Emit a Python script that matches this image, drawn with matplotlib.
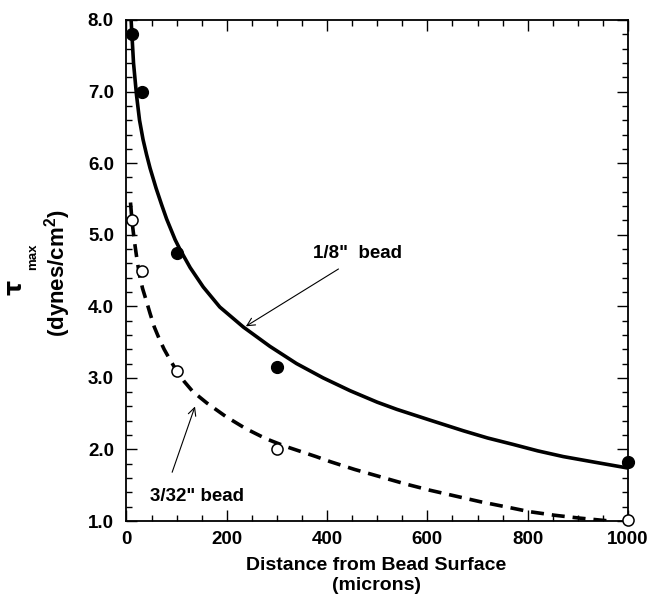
import numpy as np
import matplotlib
matplotlib.use("Agg")
from matplotlib import pyplot as plt
from matplotlib.ticker import MultipleLocator, FormatStrFormatter

plt.rcParams['font.family'] = ['Liberation Sans', 'DejaVu Sans']
plt.rcParams['font.weight'] = 'bold'
plt.rcParams['mathtext.fontset'] = 'custom'
plt.rcParams['mathtext.rm'] = 'Liberation Sans:bold'
plt.rcParams['mathtext.it'] = 'Liberation Sans:bold'
plt.rcParams['mathtext.bf'] = 'Liberation Sans:bold'

# measured points
dist = [10, 30, 100, 300, 1000]
tau_eighth = [7.8, 7.0, 4.75, 3.15, 1.82]
tau_3_32 = [5.2, 4.5, 3.1, 2.0, 1.02]

# fitted curves
fit8_x = [8, 10, 14, 20, 26, 33, 40, 47, 59, 70, 80, 97, 107, 127, 153, 186,
          233, 286, 339, 392, 446, 500, 539, 605, 672, 720, 771, 820, 871,
          935, 1000]
fit8_y = [8.15, 7.9, 7.4, 6.95, 6.6, 6.33, 6.12, 5.93, 5.65, 5.42, 5.22, 4.93,
          4.79, 4.54, 4.27, 3.99, 3.71, 3.44, 3.2, 3.0, 2.82, 2.66, 2.56,
          2.41, 2.26, 2.16, 2.07, 1.98, 1.9, 1.82, 1.74]
fit332_x = [8, 10, 12.5, 15.6, 20, 25.5, 32, 39, 47, 55.5, 65, 75, 87, 99, 115,
            132, 160, 198, 238, 278, 318, 378, 406, 455, 505, 555, 605, 655,
            705, 755, 804, 854, 904, 964]
fit332_y = [5.45, 5.28, 5.1, 4.92, 4.7, 4.45, 4.25, 4.09, 3.9, 3.71, 3.55, 3.4,
            3.25, 3.11, 2.95, 2.81, 2.65, 2.46, 2.29, 2.15, 2.04, 1.9, 1.83,
            1.72, 1.62, 1.52, 1.43, 1.35, 1.27, 1.2, 1.13, 1.08, 1.04, 1.0]

fig = plt.figure(figsize=(6.48, 5.97), dpi=100)
ax = fig.add_axes([0.1952, 0.1273, 0.7739, 0.8392])

ax.plot(fit8_x, fit8_y, color='black', lw=2.6, solid_capstyle='butt',
        solid_joinstyle='round')
ax.plot(fit332_x, fit332_y, color='black', lw=2.6, linestyle=(0, (3.6, 2.2)))
ax.plot(dist, tau_eighth, 'o', color='black', ms=8.5, clip_on=False, zorder=5)
ax.plot(dist, tau_3_32, 'o', mfc='white', mec='black', mew=1.1, ms=8,
        clip_on=False, zorder=5)

ax.set_xlim(0, 1000)
ax.set_ylim(1.0, 8.0)
ax.xaxis.set_major_locator(MultipleLocator(200))
ax.xaxis.set_minor_locator(MultipleLocator(50))
ax.yaxis.set_major_locator(MultipleLocator(1.0))
ax.yaxis.set_minor_locator(MultipleLocator(0.2))
ax.yaxis.set_major_formatter(FormatStrFormatter('%.1f'))
ax.tick_params(which='both', direction='in', top=True, right=True, width=1)
ax.tick_params(which='major', length=8, labelsize=13.5)
ax.tick_params(axis='x', which='major', pad=7)
ax.tick_params(axis='y', which='major', pad=9)
ax.tick_params(which='minor', length=4)
for s in ax.spines.values():
    s.set_linewidth(1.3)

# x label, two lines
fig.text(376 / 648, 1 - 565 / 597, 'Distance from Bead Surface', ha='center',
         va='center', fontsize=14, fontweight='bold')
fig.text(332 / 648, 1 - 585 / 597, '(microns)', ha='left', va='center',
         fontsize=14, fontweight='bold')

# y label
fig.text(15 / 648, 1 - 287 / 597, 'τ', rotation=90, ha='center', va='center',
         fontsize=17, fontweight='bold', family=['DejaVu Sans'])
fig.text(33 / 648, 1 - 257 / 597, 'max', rotation=90, ha='center', va='center',
         fontsize=9.5, fontweight='bold')
fig.text(58 / 648, 1 - 273 / 597, r'(dynes/cm$^{2}$)', rotation=90,
         ha='center', va='center', fontsize=16, fontweight='bold')

ax.annotate('1/8"  bead', xy=(238, 3.72), xytext=(460, 4.74),
            ha='center', va='center', fontsize=13.5, fontweight='bold',
            arrowprops=dict(arrowstyle='->', lw=0.8, color='black',
                            shrinkA=6, shrinkB=0, mutation_scale=14,
                            relpos=(0.42, 0.0)))
ax.annotate('3/32" bead', xy=(136.6, 2.6), xytext=(140, 1.34),
            ha='center', va='center', fontsize=13.5, fontweight='bold',
            arrowprops=dict(arrowstyle='->', lw=0.8, color='black',
                            shrinkA=10, shrinkB=0, mutation_scale=14,
                            relpos=(0.18, 1.0)))

fig.savefig('out.png', dpi=100)
